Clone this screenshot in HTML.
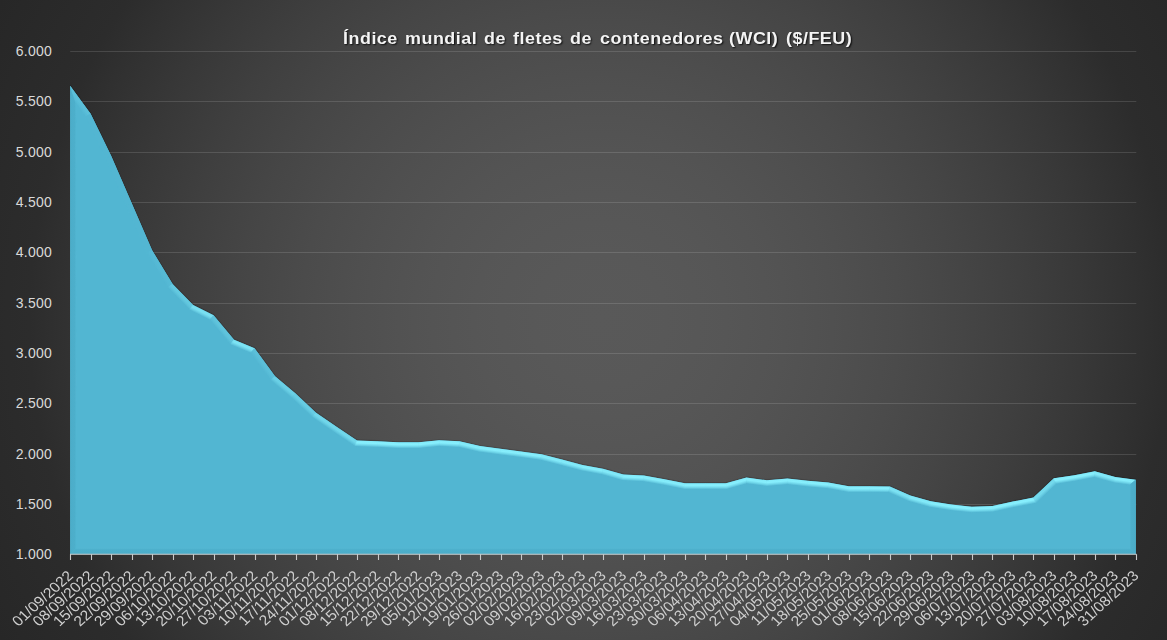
<!DOCTYPE html>
<html><head><meta charset="utf-8">
<style>
html,body{margin:0;padding:0;}
body{width:1167px;height:640px;overflow:hidden;position:relative;
background: radial-gradient(circle 680px at 600px 320px, rgb(89.0,89.0,89.0) 0.00%, rgb(88.2,88.2,88.2) 8.82%, rgb(86.3,86.3,86.3) 17.65%, rgb(83.4,83.4,83.4) 26.47%, rgb(79.5,79.5,79.5) 35.29%, rgb(74.9,74.9,74.9) 44.12%, rgb(69.4,69.4,69.4) 52.94%, rgb(63.1,63.1,63.1) 61.76%, rgb(56.1,56.1,56.1) 70.59%, rgb(48.3,48.3,48.3) 79.41%, rgb(44.0,44.0,44.0) 83.97%, rgb(39.0,39.0,39.0) 100.00%);
font-family:"Liberation Sans", sans-serif;}
svg{position:absolute;left:0;top:0;}
.xl{will-change:transform;}
.ttl span{position:absolute;top:29px;color:#f4f4f4;font-weight:bold;font-size:16px;letter-spacing:0.45px;transform:scaleX(1.12);transform-origin:0 0;white-space:pre;text-shadow:1px 1px 1.5px rgba(0,0,0,0.75);line-height:20px;}
</style></head><body>
<svg width="1167" height="640" viewBox="0 0 1167 640">
<defs>
<clipPath id="ac"><path d="M70.20,554.20 L70.20,85.70 L90.69,113.76 L111.18,155.70 L131.68,202.97 L152.17,250.25 L172.66,283.94 L193.15,304.96 L213.65,315.22 L234.14,339.66 L254.63,348.21 L275.12,376.17 L295.62,393.47 L316.11,412.68 L336.60,426.77 L357.09,440.54 L377.58,441.25 L398.08,442.36 L418.57,442.36 L439.06,440.34 L459.55,441.35 L480.05,446.08 L500.54,448.79 L521.03,451.41 L541.52,454.22 L562.02,459.45 L582.51,464.88 L603.00,468.71 L623.49,474.54 L643.98,475.55 L664.48,479.17 L684.97,483.29 L705.46,483.29 L725.95,483.29 L746.45,477.56 L766.94,480.27 L787.43,478.46 L807.92,480.78 L828.42,482.59 L848.91,486.31 L869.40,486.31 L889.89,486.51 L910.38,495.56 L930.88,501.29 L951.37,504.51 L971.86,506.63 L992.35,505.92 L1012.85,501.50 L1033.34,497.57 L1053.83,478.36 L1074.32,475.14 L1094.82,471.22 L1115.31,476.95 L1135.80,479.77 L1135.80,554.20 Z"/></clipPath>
<filter id="bl" x="-5%" y="-5%" width="110%" height="110%"><feGaussianBlur stdDeviation="0.7"/></filter>
<linearGradient id="g0" gradientUnits="userSpaceOnUse" x1="70.20" y1="319.95" x2="76.20" y2="319.95"><stop offset="0" stop-color="#4cadc9"/><stop offset="0.75" stop-color="#4dafcb"/><stop offset="1" stop-color="#52b6d2"/></linearGradient>
<linearGradient id="g1" gradientUnits="userSpaceOnUse" x1="80.45" y1="99.73" x2="75.60" y2="103.27"><stop offset="0" stop-color="#5abfd8"/><stop offset="0.4" stop-color="#5bbfd9"/><stop offset="0.7" stop-color="#57bbd6"/><stop offset="1" stop-color="#52b6d2"/></linearGradient>
<linearGradient id="g2" gradientUnits="userSpaceOnUse" x1="100.94" y1="134.73" x2="95.55" y2="137.37"><stop offset="0" stop-color="#52b6d2"/><stop offset="0.75" stop-color="#52b6d2"/><stop offset="1" stop-color="#52b6d2"/></linearGradient>
<linearGradient id="g3" gradientUnits="userSpaceOnUse" x1="121.43" y1="179.34" x2="115.93" y2="181.72"><stop offset="0" stop-color="#52b6d2"/><stop offset="0.75" stop-color="#52b6d2"/><stop offset="1" stop-color="#52b6d2"/></linearGradient>
<linearGradient id="g4" gradientUnits="userSpaceOnUse" x1="141.92" y1="226.61" x2="136.42" y2="229.00"><stop offset="0" stop-color="#52b6d2"/><stop offset="0.75" stop-color="#52b6d2"/><stop offset="1" stop-color="#52b6d2"/></linearGradient>
<linearGradient id="g5" gradientUnits="userSpaceOnUse" x1="162.42" y1="267.09" x2="157.29" y2="270.21"><stop offset="0" stop-color="#55bad5"/><stop offset="0.4" stop-color="#56bad5"/><stop offset="0.7" stop-color="#54b8d4"/><stop offset="1" stop-color="#52b6d2"/></linearGradient>
<linearGradient id="g6" gradientUnits="userSpaceOnUse" x1="182.91" y1="294.45" x2="178.61" y2="298.64"><stop offset="0" stop-color="#63c8df"/><stop offset="0.4" stop-color="#64c9e0"/><stop offset="0.7" stop-color="#5cc1da"/><stop offset="1" stop-color="#52b6d2"/></linearGradient>
<linearGradient id="g7" gradientUnits="userSpaceOnUse" x1="203.40" y1="310.09" x2="200.71" y2="315.46"><stop offset="0" stop-color="#76ddef"/><stop offset="0.4" stop-color="#79e0f1"/><stop offset="0.7" stop-color="#69cee4"/><stop offset="1" stop-color="#52b6d2"/></linearGradient>
<linearGradient id="g8" gradientUnits="userSpaceOnUse" x1="223.89" y1="327.44" x2="219.29" y2="331.30"><stop offset="0" stop-color="#5ec3dc"/><stop offset="0.4" stop-color="#5fc4dc"/><stop offset="0.7" stop-color="#5abed8"/><stop offset="1" stop-color="#52b6d2"/></linearGradient>
<linearGradient id="g9" gradientUnits="userSpaceOnUse" x1="244.38" y1="343.94" x2="242.07" y2="349.47"><stop offset="0" stop-color="#79e0f2"/><stop offset="0.4" stop-color="#7ce4f4"/><stop offset="0.7" stop-color="#6bd0e6"/><stop offset="1" stop-color="#52b6d2"/></linearGradient>
<linearGradient id="g10" gradientUnits="userSpaceOnUse" x1="264.88" y1="362.19" x2="260.04" y2="365.74"><stop offset="0" stop-color="#5abfd9"/><stop offset="0.4" stop-color="#5bbfd9"/><stop offset="0.7" stop-color="#57bbd6"/><stop offset="1" stop-color="#52b6d2"/></linearGradient>
<linearGradient id="g11" gradientUnits="userSpaceOnUse" x1="285.37" y1="384.82" x2="281.50" y2="389.41"><stop offset="0" stop-color="#69cee4"/><stop offset="0.4" stop-color="#6ad0e6"/><stop offset="0.7" stop-color="#60c5dd"/><stop offset="1" stop-color="#52b6d2"/></linearGradient>
<linearGradient id="g12" gradientUnits="userSpaceOnUse" x1="305.86" y1="403.08" x2="301.76" y2="407.46"><stop offset="0" stop-color="#65cbe2"/><stop offset="0.4" stop-color="#67cce3"/><stop offset="0.7" stop-color="#5ec3dc"/><stop offset="1" stop-color="#52b6d2"/></linearGradient>
<linearGradient id="g13" gradientUnits="userSpaceOnUse" x1="326.35" y1="419.72" x2="322.96" y2="424.67"><stop offset="0" stop-color="#6fd5e9"/><stop offset="0.4" stop-color="#71d7eb"/><stop offset="0.7" stop-color="#64c9e0"/><stop offset="1" stop-color="#52b6d2"/></linearGradient>
<linearGradient id="g14" gradientUnits="userSpaceOnUse" x1="346.85" y1="433.65" x2="343.50" y2="438.63"><stop offset="0" stop-color="#6fd5e9"/><stop offset="0.4" stop-color="#71d8eb"/><stop offset="0.7" stop-color="#64c9e1"/><stop offset="1" stop-color="#52b6d2"/></linearGradient>
<linearGradient id="g15" gradientUnits="userSpaceOnUse" x1="367.34" y1="440.90" x2="367.13" y2="446.89"><stop offset="0" stop-color="#83ebfa"/><stop offset="0.4" stop-color="#87effd"/><stop offset="0.7" stop-color="#71d7eb"/><stop offset="1" stop-color="#52b6d2"/></linearGradient>
<linearGradient id="g16" gradientUnits="userSpaceOnUse" x1="387.83" y1="441.80" x2="387.51" y2="447.79"><stop offset="0" stop-color="#83ebfa"/><stop offset="0.4" stop-color="#87effd"/><stop offset="0.7" stop-color="#71d7eb"/><stop offset="1" stop-color="#52b6d2"/></linearGradient>
<linearGradient id="g17" gradientUnits="userSpaceOnUse" x1="408.32" y1="442.36" x2="408.32" y2="448.36"><stop offset="0" stop-color="#83ebfa"/><stop offset="0.4" stop-color="#87effd"/><stop offset="0.7" stop-color="#71d7eb"/><stop offset="1" stop-color="#52b6d2"/></linearGradient>
<linearGradient id="g18" gradientUnits="userSpaceOnUse" x1="428.82" y1="441.35" x2="429.40" y2="447.32"><stop offset="0" stop-color="#83ebfa"/><stop offset="0.4" stop-color="#87effd"/><stop offset="0.7" stop-color="#71d7eb"/><stop offset="1" stop-color="#52b6d2"/></linearGradient>
<linearGradient id="g19" gradientUnits="userSpaceOnUse" x1="449.31" y1="440.85" x2="449.01" y2="446.84"><stop offset="0" stop-color="#83ebfa"/><stop offset="0.4" stop-color="#87effd"/><stop offset="0.7" stop-color="#71d7eb"/><stop offset="1" stop-color="#52b6d2"/></linearGradient>
<linearGradient id="g20" gradientUnits="userSpaceOnUse" x1="469.80" y1="443.71" x2="468.45" y2="449.56"><stop offset="0" stop-color="#80e7f7"/><stop offset="0.4" stop-color="#84ebfa"/><stop offset="0.7" stop-color="#6fd5e9"/><stop offset="1" stop-color="#52b6d2"/></linearGradient>
<linearGradient id="g21" gradientUnits="userSpaceOnUse" x1="490.29" y1="447.43" x2="489.50" y2="453.38"><stop offset="0" stop-color="#83eaf9"/><stop offset="0.4" stop-color="#86eefc"/><stop offset="0.7" stop-color="#70d7ea"/><stop offset="1" stop-color="#52b6d2"/></linearGradient>
<linearGradient id="g22" gradientUnits="userSpaceOnUse" x1="510.78" y1="450.10" x2="510.03" y2="456.05"><stop offset="0" stop-color="#83eaf9"/><stop offset="0.4" stop-color="#87eefc"/><stop offset="0.7" stop-color="#70d7ea"/><stop offset="1" stop-color="#52b6d2"/></linearGradient>
<linearGradient id="g23" gradientUnits="userSpaceOnUse" x1="531.28" y1="452.82" x2="530.46" y2="458.76"><stop offset="0" stop-color="#82eaf9"/><stop offset="0.4" stop-color="#86eefc"/><stop offset="0.7" stop-color="#70d6ea"/><stop offset="1" stop-color="#52b6d2"/></linearGradient>
<linearGradient id="g24" gradientUnits="userSpaceOnUse" x1="551.77" y1="456.84" x2="550.29" y2="462.65"><stop offset="0" stop-color="#7fe6f6"/><stop offset="0.4" stop-color="#83eaf9"/><stop offset="0.7" stop-color="#6ed4e9"/><stop offset="1" stop-color="#52b6d2"/></linearGradient>
<linearGradient id="g25" gradientUnits="userSpaceOnUse" x1="572.26" y1="462.17" x2="570.72" y2="467.97"><stop offset="0" stop-color="#7fe6f6"/><stop offset="0.4" stop-color="#82eaf9"/><stop offset="0.7" stop-color="#6ed4e9"/><stop offset="1" stop-color="#52b6d2"/></linearGradient>
<linearGradient id="g26" gradientUnits="userSpaceOnUse" x1="592.75" y1="466.80" x2="591.65" y2="472.69"><stop offset="0" stop-color="#81e9f8"/><stop offset="0.4" stop-color="#85edfb"/><stop offset="0.7" stop-color="#70d6ea"/><stop offset="1" stop-color="#52b6d2"/></linearGradient>
<linearGradient id="g27" gradientUnits="userSpaceOnUse" x1="613.25" y1="471.62" x2="611.60" y2="477.39"><stop offset="0" stop-color="#7ee5f6"/><stop offset="0.4" stop-color="#82e9f8"/><stop offset="0.7" stop-color="#6ed4e8"/><stop offset="1" stop-color="#52b6d2"/></linearGradient>
<linearGradient id="g28" gradientUnits="userSpaceOnUse" x1="633.74" y1="475.04" x2="633.44" y2="481.04"><stop offset="0" stop-color="#83ebfa"/><stop offset="0.4" stop-color="#87effd"/><stop offset="0.7" stop-color="#71d7eb"/><stop offset="1" stop-color="#52b6d2"/></linearGradient>
<linearGradient id="g29" gradientUnits="userSpaceOnUse" x1="654.23" y1="477.36" x2="653.19" y2="483.27"><stop offset="0" stop-color="#82e9f8"/><stop offset="0.4" stop-color="#85edfb"/><stop offset="0.7" stop-color="#70d6ea"/><stop offset="1" stop-color="#52b6d2"/></linearGradient>
<linearGradient id="g30" gradientUnits="userSpaceOnUse" x1="674.72" y1="481.23" x2="673.54" y2="487.11"><stop offset="0" stop-color="#81e8f8"/><stop offset="0.4" stop-color="#85ecfb"/><stop offset="0.7" stop-color="#6fd5ea"/><stop offset="1" stop-color="#52b6d2"/></linearGradient>
<linearGradient id="g31" gradientUnits="userSpaceOnUse" x1="695.22" y1="483.29" x2="695.22" y2="489.29"><stop offset="0" stop-color="#83ebfa"/><stop offset="0.4" stop-color="#87effd"/><stop offset="0.7" stop-color="#71d7eb"/><stop offset="1" stop-color="#52b6d2"/></linearGradient>
<linearGradient id="g32" gradientUnits="userSpaceOnUse" x1="715.71" y1="483.29" x2="715.71" y2="489.29"><stop offset="0" stop-color="#83ebfa"/><stop offset="0.4" stop-color="#87effd"/><stop offset="0.7" stop-color="#71d7eb"/><stop offset="1" stop-color="#52b6d2"/></linearGradient>
<linearGradient id="g33" gradientUnits="userSpaceOnUse" x1="736.20" y1="480.42" x2="737.82" y2="486.20"><stop offset="0" stop-color="#83ebfa"/><stop offset="0.4" stop-color="#87effd"/><stop offset="0.7" stop-color="#71d7eb"/><stop offset="1" stop-color="#52b6d2"/></linearGradient>
<linearGradient id="g34" gradientUnits="userSpaceOnUse" x1="756.69" y1="478.92" x2="755.90" y2="484.86"><stop offset="0" stop-color="#83eaf9"/><stop offset="0.4" stop-color="#86eefc"/><stop offset="0.7" stop-color="#70d7ea"/><stop offset="1" stop-color="#52b6d2"/></linearGradient>
<linearGradient id="g35" gradientUnits="userSpaceOnUse" x1="777.18" y1="479.37" x2="777.71" y2="485.35"><stop offset="0" stop-color="#83ebfa"/><stop offset="0.4" stop-color="#87effd"/><stop offset="0.7" stop-color="#71d7eb"/><stop offset="1" stop-color="#52b6d2"/></linearGradient>
<linearGradient id="g36" gradientUnits="userSpaceOnUse" x1="797.68" y1="479.62" x2="797.00" y2="485.58"><stop offset="0" stop-color="#83ebf9"/><stop offset="0.4" stop-color="#87effd"/><stop offset="0.7" stop-color="#71d7eb"/><stop offset="1" stop-color="#52b6d2"/></linearGradient>
<linearGradient id="g37" gradientUnits="userSpaceOnUse" x1="818.17" y1="481.68" x2="817.64" y2="487.66"><stop offset="0" stop-color="#83ebfa"/><stop offset="0.4" stop-color="#87effd"/><stop offset="0.7" stop-color="#71d7eb"/><stop offset="1" stop-color="#52b6d2"/></linearGradient>
<linearGradient id="g38" gradientUnits="userSpaceOnUse" x1="838.66" y1="484.45" x2="837.59" y2="490.35"><stop offset="0" stop-color="#81e9f8"/><stop offset="0.4" stop-color="#85edfb"/><stop offset="0.7" stop-color="#70d6ea"/><stop offset="1" stop-color="#52b6d2"/></linearGradient>
<linearGradient id="g39" gradientUnits="userSpaceOnUse" x1="859.15" y1="486.31" x2="859.15" y2="492.31"><stop offset="0" stop-color="#83ebfa"/><stop offset="0.4" stop-color="#87effd"/><stop offset="0.7" stop-color="#71d7eb"/><stop offset="1" stop-color="#52b6d2"/></linearGradient>
<linearGradient id="g40" gradientUnits="userSpaceOnUse" x1="879.65" y1="486.41" x2="879.59" y2="492.41"><stop offset="0" stop-color="#83ebfa"/><stop offset="0.4" stop-color="#87effd"/><stop offset="0.7" stop-color="#71d7eb"/><stop offset="1" stop-color="#52b6d2"/></linearGradient>
<linearGradient id="g41" gradientUnits="userSpaceOnUse" x1="900.14" y1="491.04" x2="897.71" y2="496.52"><stop offset="0" stop-color="#78dff1"/><stop offset="0.4" stop-color="#7be2f3"/><stop offset="0.7" stop-color="#6ad0e5"/><stop offset="1" stop-color="#52b6d2"/></linearGradient>
<linearGradient id="g42" gradientUnits="userSpaceOnUse" x1="920.63" y1="498.43" x2="919.01" y2="504.21"><stop offset="0" stop-color="#7ee6f6"/><stop offset="0.4" stop-color="#82e9f9"/><stop offset="0.7" stop-color="#6ed4e8"/><stop offset="1" stop-color="#52b6d2"/></linearGradient>
<linearGradient id="g43" gradientUnits="userSpaceOnUse" x1="941.12" y1="502.90" x2="940.19" y2="508.83"><stop offset="0" stop-color="#82e9f9"/><stop offset="0.4" stop-color="#86eefc"/><stop offset="0.7" stop-color="#70d6ea"/><stop offset="1" stop-color="#52b6d2"/></linearGradient>
<linearGradient id="g44" gradientUnits="userSpaceOnUse" x1="961.62" y1="505.57" x2="961.00" y2="511.54"><stop offset="0" stop-color="#83ebfa"/><stop offset="0.4" stop-color="#87effd"/><stop offset="0.7" stop-color="#71d7eb"/><stop offset="1" stop-color="#52b6d2"/></linearGradient>
<linearGradient id="g45" gradientUnits="userSpaceOnUse" x1="982.11" y1="506.27" x2="982.31" y2="512.27"><stop offset="0" stop-color="#83ebfa"/><stop offset="0.4" stop-color="#87effd"/><stop offset="0.7" stop-color="#71d7eb"/><stop offset="1" stop-color="#52b6d2"/></linearGradient>
<linearGradient id="g46" gradientUnits="userSpaceOnUse" x1="1002.60" y1="503.71" x2="1003.87" y2="509.57"><stop offset="0" stop-color="#83ebfa"/><stop offset="0.4" stop-color="#87effd"/><stop offset="0.7" stop-color="#71d7eb"/><stop offset="1" stop-color="#52b6d2"/></linearGradient>
<linearGradient id="g47" gradientUnits="userSpaceOnUse" x1="1023.09" y1="499.53" x2="1024.22" y2="505.43"><stop offset="0" stop-color="#83ebfa"/><stop offset="0.4" stop-color="#87effd"/><stop offset="0.7" stop-color="#71d7eb"/><stop offset="1" stop-color="#52b6d2"/></linearGradient>
<linearGradient id="g48" gradientUnits="userSpaceOnUse" x1="1043.58" y1="487.97" x2="1047.69" y2="492.35"><stop offset="0" stop-color="#71d8eb"/><stop offset="0.4" stop-color="#74daed"/><stop offset="0.7" stop-color="#66cbe2"/><stop offset="1" stop-color="#52b6d2"/></linearGradient>
<linearGradient id="g49" gradientUnits="userSpaceOnUse" x1="1064.08" y1="476.75" x2="1065.01" y2="482.68"><stop offset="0" stop-color="#83ebfa"/><stop offset="0.4" stop-color="#87effd"/><stop offset="0.7" stop-color="#71d7eb"/><stop offset="1" stop-color="#52b6d2"/></linearGradient>
<linearGradient id="g50" gradientUnits="userSpaceOnUse" x1="1084.57" y1="473.18" x2="1085.70" y2="479.08"><stop offset="0" stop-color="#83ebfa"/><stop offset="0.4" stop-color="#87effd"/><stop offset="0.7" stop-color="#71d7eb"/><stop offset="1" stop-color="#52b6d2"/></linearGradient>
<linearGradient id="g51" gradientUnits="userSpaceOnUse" x1="1105.06" y1="474.09" x2="1103.45" y2="479.87"><stop offset="0" stop-color="#7ee6f6"/><stop offset="0.4" stop-color="#82e9f9"/><stop offset="0.7" stop-color="#6ed4e8"/><stop offset="1" stop-color="#52b6d2"/></linearGradient>
<linearGradient id="g52" gradientUnits="userSpaceOnUse" x1="1125.55" y1="478.36" x2="1124.74" y2="484.31"><stop offset="0" stop-color="#82eaf9"/><stop offset="0.4" stop-color="#86eefc"/><stop offset="0.7" stop-color="#70d6ea"/><stop offset="1" stop-color="#52b6d2"/></linearGradient>
<linearGradient id="g53" gradientUnits="userSpaceOnUse" x1="1135.80" y1="516.99" x2="1129.80" y2="516.99"><stop offset="0" stop-color="#4cadc9"/><stop offset="0.75" stop-color="#4dafcb"/><stop offset="1" stop-color="#52b6d2"/></linearGradient>
<linearGradient id="g54" gradientUnits="userSpaceOnUse" x1="603.00" y1="554.20" x2="603.00" y2="548.20"><stop offset="0" stop-color="#4cadc9"/><stop offset="0.75" stop-color="#4dafcb"/><stop offset="1" stop-color="#52b6d2"/></linearGradient>

</defs>
<g stroke="rgba(255,255,255,0.13)" stroke-width="1">
<line x1="70.2" y1="504.5" x2="1136.3" y2="504.5"/>
<line x1="70.2" y1="454.5" x2="1136.3" y2="454.5"/>
<line x1="70.2" y1="403.5" x2="1136.3" y2="403.5"/>
<line x1="70.2" y1="353.5" x2="1136.3" y2="353.5"/>
<line x1="70.2" y1="303.5" x2="1136.3" y2="303.5"/>
<line x1="70.2" y1="252.5" x2="1136.3" y2="252.5"/>
<line x1="70.2" y1="202.5" x2="1136.3" y2="202.5"/>
<line x1="70.2" y1="152.5" x2="1136.3" y2="152.5"/>
<line x1="70.2" y1="101.5" x2="1136.3" y2="101.5"/>
<line x1="70.2" y1="51.5" x2="1136.3" y2="51.5"/>
</g>
<polyline points="70.20,85.70 90.69,113.76 111.18,155.70 131.68,202.97 152.17,250.25 172.66,283.94 193.15,304.96 213.65,315.22 234.14,339.66 254.63,348.21 275.12,376.17 295.62,393.47 316.11,412.68 336.60,426.77 357.09,440.54 377.58,441.25 398.08,442.36 418.57,442.36 439.06,440.34 459.55,441.35 480.05,446.08 500.54,448.79 521.03,451.41 541.52,454.22 562.02,459.45 582.51,464.88 603.00,468.71 623.49,474.54 643.98,475.55 664.48,479.17 684.97,483.29 705.46,483.29 725.95,483.29 746.45,477.56 766.94,480.27 787.43,478.46 807.92,480.78 828.42,482.59 848.91,486.31 869.40,486.31 889.89,486.51 910.38,495.56 930.88,501.29 951.37,504.51 971.86,506.63 992.35,505.92 1012.85,501.50 1033.34,497.57 1053.83,478.36 1074.32,475.14 1094.82,471.22 1115.31,476.95 1135.80,479.77" transform="translate(0,-0.5)" fill="none" stroke="rgba(0,0,0,0.14)" stroke-width="1.4" stroke-linejoin="round"/>
<path d="M70.20,554.20 L70.20,85.70 L90.69,113.76 L111.18,155.70 L131.68,202.97 L152.17,250.25 L172.66,283.94 L193.15,304.96 L213.65,315.22 L234.14,339.66 L254.63,348.21 L275.12,376.17 L295.62,393.47 L316.11,412.68 L336.60,426.77 L357.09,440.54 L377.58,441.25 L398.08,442.36 L418.57,442.36 L439.06,440.34 L459.55,441.35 L480.05,446.08 L500.54,448.79 L521.03,451.41 L541.52,454.22 L562.02,459.45 L582.51,464.88 L603.00,468.71 L623.49,474.54 L643.98,475.55 L664.48,479.17 L684.97,483.29 L705.46,483.29 L725.95,483.29 L746.45,477.56 L766.94,480.27 L787.43,478.46 L807.92,480.78 L828.42,482.59 L848.91,486.31 L869.40,486.31 L889.89,486.51 L910.38,495.56 L930.88,501.29 L951.37,504.51 L971.86,506.63 L992.35,505.92 L1012.85,501.50 L1033.34,497.57 L1053.83,478.36 L1074.32,475.14 L1094.82,471.22 L1115.31,476.95 L1135.80,479.77 L1135.80,554.20 Z" fill="#52b6d2"/>
<g clip-path="url(#ac)"><g filter="url(#bl)">
<path d="M70.20,554.20 L70.20,85.70 L75.52,102.00 L76.20,548.20 Z" fill="url(#g0)" stroke="url(#g0)" stroke-width="0.7"/>
<path d="M70.20,85.70 L90.69,113.76 L85.53,116.87 L75.52,102.00 Z" fill="url(#g1)" stroke="url(#g1)" stroke-width="0.7"/>
<path d="M90.69,113.76 L111.18,155.70 L105.73,158.21 L85.53,116.87 Z" fill="url(#g2)" stroke="url(#g2)" stroke-width="0.7"/>
<path d="M111.18,155.70 L131.68,202.97 L126.17,205.36 L105.73,158.21 Z" fill="url(#g3)" stroke="url(#g3)" stroke-width="0.7"/>
<path d="M131.68,202.97 L152.17,250.25 L146.83,253.01 L126.17,205.36 Z" fill="url(#g4)" stroke="url(#g4)" stroke-width="0.7"/>
<path d="M152.17,250.25 L172.66,283.94 L167.89,287.64 L146.83,253.01 Z" fill="url(#g5)" stroke="url(#g5)" stroke-width="0.7"/>
<path d="M172.66,283.94 L193.15,304.96 L189.56,309.88 L167.89,287.64 Z" fill="url(#g6)" stroke="url(#g6)" stroke-width="0.7"/>
<path d="M193.15,304.96 L213.65,315.22 L209.85,320.03 L189.56,309.88 Z" fill="url(#g7)" stroke="url(#g7)" stroke-width="0.7"/>
<path d="M213.65,315.22 L234.14,339.66 L230.48,344.64 L209.85,320.03 Z" fill="url(#g8)" stroke="url(#g8)" stroke-width="0.7"/>
<path d="M234.14,339.66 L254.63,348.21 L250.78,353.11 L230.48,344.64 Z" fill="url(#g9)" stroke="url(#g9)" stroke-width="0.7"/>
<path d="M254.63,348.21 L275.12,376.17 L270.71,380.30 L250.78,353.11 Z" fill="url(#g10)" stroke="url(#g10)" stroke-width="0.7"/>
<path d="M275.12,376.17 L295.62,393.47 L291.63,397.96 L270.71,380.30 Z" fill="url(#g11)" stroke="url(#g11)" stroke-width="0.7"/>
<path d="M295.62,393.47 L316.11,412.68 L312.34,417.37 L291.63,397.96 Z" fill="url(#g12)" stroke="url(#g12)" stroke-width="0.7"/>
<path d="M316.11,412.68 L336.60,426.77 L333.23,431.73 L312.34,417.37 Z" fill="url(#g13)" stroke="url(#g13)" stroke-width="0.7"/>
<path d="M336.60,426.77 L357.09,440.54 L355.17,446.48 L333.23,431.73 Z" fill="url(#g14)" stroke="url(#g14)" stroke-width="0.7"/>
<path d="M357.09,440.54 L377.58,441.25 L377.32,447.24 L355.17,446.48 Z" fill="url(#g15)" stroke="url(#g15)" stroke-width="0.7"/>
<path d="M377.58,441.25 L398.08,442.36 L397.92,448.36 L377.32,447.24 Z" fill="url(#g16)" stroke="url(#g16)" stroke-width="0.7"/>
<path d="M398.08,442.36 L418.57,442.36 L418.86,448.36 L397.92,448.36 Z" fill="url(#g17)" stroke="url(#g17)" stroke-width="0.7"/>
<path d="M418.57,442.36 L439.06,440.34 L439.21,446.36 L418.86,448.36 Z" fill="url(#g18)" stroke="url(#g18)" stroke-width="0.7"/>
<path d="M439.06,440.34 L459.55,441.35 L458.73,447.32 L439.21,446.36 Z" fill="url(#g19)" stroke="url(#g19)" stroke-width="0.7"/>
<path d="M459.55,441.35 L480.05,446.08 L478.98,451.99 L458.73,447.32 Z" fill="url(#g20)" stroke="url(#g20)" stroke-width="0.7"/>
<path d="M480.05,446.08 L500.54,448.79 L499.76,454.74 L478.98,451.99 Z" fill="url(#g21)" stroke="url(#g21)" stroke-width="0.7"/>
<path d="M500.54,448.79 L521.03,451.41 L520.24,457.36 L499.76,454.74 Z" fill="url(#g22)" stroke="url(#g22)" stroke-width="0.7"/>
<path d="M521.03,451.41 L541.52,454.22 L540.37,460.12 L520.24,457.36 Z" fill="url(#g23)" stroke="url(#g23)" stroke-width="0.7"/>
<path d="M541.52,454.22 L562.02,459.45 L560.50,465.26 L540.37,460.12 Z" fill="url(#g24)" stroke="url(#g24)" stroke-width="0.7"/>
<path d="M562.02,459.45 L582.51,464.88 L581.19,470.74 L560.50,465.26 Z" fill="url(#g25)" stroke="url(#g25)" stroke-width="0.7"/>
<path d="M582.51,464.88 L603.00,468.71 L601.63,474.55 L581.19,470.74 Z" fill="url(#g26)" stroke="url(#g26)" stroke-width="0.7"/>
<path d="M603.00,468.71 L623.49,474.54 L622.51,480.50 L601.63,474.55 Z" fill="url(#g27)" stroke="url(#g27)" stroke-width="0.7"/>
<path d="M623.49,474.54 L643.98,475.55 L643.31,481.52 L622.51,480.50 Z" fill="url(#g28)" stroke="url(#g28)" stroke-width="0.7"/>
<path d="M643.98,475.55 L664.48,479.17 L663.36,485.06 L643.31,481.52 Z" fill="url(#g29)" stroke="url(#g29)" stroke-width="0.7"/>
<path d="M664.48,479.17 L684.97,483.29 L684.37,489.29 L663.36,485.06 Z" fill="url(#g30)" stroke="url(#g30)" stroke-width="0.7"/>
<path d="M684.97,483.29 L705.46,483.29 L705.46,489.29 L684.37,489.29 Z" fill="url(#g31)" stroke="url(#g31)" stroke-width="0.7"/>
<path d="M705.46,483.29 L725.95,483.29 L726.78,489.29 L705.46,489.29 Z" fill="url(#g32)" stroke="url(#g32)" stroke-width="0.7"/>
<path d="M725.95,483.29 L746.45,477.56 L746.88,483.67 L726.78,489.29 Z" fill="url(#g33)" stroke="url(#g33)" stroke-width="0.7"/>
<path d="M746.45,477.56 L766.94,480.27 L766.81,486.31 L746.88,483.67 Z" fill="url(#g34)" stroke="url(#g34)" stroke-width="0.7"/>
<path d="M766.94,480.27 L787.43,478.46 L787.36,484.49 L766.81,486.31 Z" fill="url(#g35)" stroke="url(#g35)" stroke-width="0.7"/>
<path d="M787.43,478.46 L807.92,480.78 L807.32,486.75 L787.36,484.49 Z" fill="url(#g36)" stroke="url(#g36)" stroke-width="0.7"/>
<path d="M807.92,480.78 L828.42,482.59 L827.61,488.54 L807.32,486.75 Z" fill="url(#g37)" stroke="url(#g37)" stroke-width="0.7"/>
<path d="M828.42,482.59 L848.91,486.31 L848.37,492.31 L827.61,488.54 Z" fill="url(#g38)" stroke="url(#g38)" stroke-width="0.7"/>
<path d="M848.91,486.31 L869.40,486.31 L869.37,492.31 L848.37,492.31 Z" fill="url(#g39)" stroke="url(#g39)" stroke-width="0.7"/>
<path d="M869.40,486.31 L889.89,486.51 L888.60,492.50 L869.37,492.31 Z" fill="url(#g40)" stroke="url(#g40)" stroke-width="0.7"/>
<path d="M889.89,486.51 L910.38,495.56 L908.35,501.22 L888.60,492.50 Z" fill="url(#g41)" stroke="url(#g41)" stroke-width="0.7"/>
<path d="M910.38,495.56 L930.88,501.29 L929.60,507.17 L908.35,501.22 Z" fill="url(#g42)" stroke="url(#g42)" stroke-width="0.7"/>
<path d="M930.88,501.29 L951.37,504.51 L950.60,510.47 L929.60,507.17 Z" fill="url(#g43)" stroke="url(#g43)" stroke-width="0.7"/>
<path d="M951.37,504.51 L971.86,506.63 L971.66,512.64 L950.60,510.47 Z" fill="url(#g44)" stroke="url(#g44)" stroke-width="0.7"/>
<path d="M971.86,506.63 L992.35,505.92 L993.10,511.90 L971.66,512.64 Z" fill="url(#g45)" stroke="url(#g45)" stroke-width="0.7"/>
<path d="M992.35,505.92 L1012.85,501.50 L1014.04,507.38 L993.10,511.90 Z" fill="url(#g46)" stroke="url(#g46)" stroke-width="0.7"/>
<path d="M1012.85,501.50 L1033.34,497.57 L1036.17,503.14 L1014.04,507.38 Z" fill="url(#g47)" stroke="url(#g47)" stroke-width="0.7"/>
<path d="M1033.34,497.57 L1053.83,478.36 L1056.59,484.00 L1036.17,503.14 Z" fill="url(#g48)" stroke="url(#g48)" stroke-width="0.7"/>
<path d="M1053.83,478.36 L1074.32,475.14 L1075.35,481.06 L1056.59,484.00 Z" fill="url(#g49)" stroke="url(#g49)" stroke-width="0.7"/>
<path d="M1074.32,475.14 L1094.82,471.22 L1094.56,477.38 L1075.35,481.06 Z" fill="url(#g50)" stroke="url(#g50)" stroke-width="0.7"/>
<path d="M1094.82,471.22 L1115.31,476.95 L1114.09,482.84 L1094.56,477.38 Z" fill="url(#g51)" stroke="url(#g51)" stroke-width="0.7"/>
<path d="M1115.31,476.95 L1135.80,479.77 L1129.80,485.00 L1114.09,482.84 Z" fill="url(#g52)" stroke="url(#g52)" stroke-width="0.7"/>
<path d="M1135.80,479.77 L1135.80,554.20 L1129.80,548.20 L1129.80,485.00 Z" fill="url(#g53)" stroke="url(#g53)" stroke-width="0.7"/>
<path d="M1135.80,554.20 L70.20,554.20 L76.20,548.20 L1129.80,548.20 Z" fill="url(#g54)" stroke="url(#g54)" stroke-width="0.7"/>
</g></g>
<path d="M70.0,554.2H1136.5M70.5,554.2V560.0M91.5,554.2V560.0M111.5,554.2V560.0M132.5,554.2V560.0M152.5,554.2V560.0M173.5,554.2V560.0M193.5,554.2V560.0M214.5,554.2V560.0M234.5,554.2V560.0M255.5,554.2V560.0M275.5,554.2V560.0M296.5,554.2V560.0M316.5,554.2V560.0M337.5,554.2V560.0M357.5,554.2V560.0M378.5,554.2V560.0M398.5,554.2V560.0M419.5,554.2V560.0M439.5,554.2V560.0M460.5,554.2V560.0M480.5,554.2V560.0M501.5,554.2V560.0M521.5,554.2V560.0M542.5,554.2V560.0M562.5,554.2V560.0M583.5,554.2V560.0M603.5,554.2V560.0M623.5,554.2V560.0M644.5,554.2V560.0M664.5,554.2V560.0M685.5,554.2V560.0M705.5,554.2V560.0M726.5,554.2V560.0M746.5,554.2V560.0M767.5,554.2V560.0M787.5,554.2V560.0M808.5,554.2V560.0M828.5,554.2V560.0M849.5,554.2V560.0M869.5,554.2V560.0M890.5,554.2V560.0M910.5,554.2V560.0M931.5,554.2V560.0M951.5,554.2V560.0M972.5,554.2V560.0M992.5,554.2V560.0M1013.5,554.2V560.0M1033.5,554.2V560.0M1054.5,554.2V560.0M1074.5,554.2V560.0M1095.5,554.2V560.0M1115.5,554.2V560.0M1136.5,554.2V560.0" stroke="#c8c8c8" stroke-width="1.1" fill="none"/>
<g font-family="Liberation Sans, sans-serif" font-size="14" fill="#d9d9d9" text-anchor="end" letter-spacing="0.3">
<text x="52.2" y="559.10">1.000</text>
<text x="52.2" y="508.81">1.500</text>
<text x="52.2" y="458.52">2.000</text>
<text x="52.2" y="408.23">2.500</text>
<text x="52.2" y="357.94">3.000</text>
<text x="52.2" y="307.65">3.500</text>
<text x="52.2" y="257.36">4.000</text>
<text x="52.2" y="207.07">4.500</text>
<text x="52.2" y="156.78">5.000</text>
<text x="52.2" y="106.49">5.500</text>
<text x="52.2" y="56.20">6.000</text>
</g>
</svg>
<svg class="xl" width="1167" height="640" viewBox="0 0 1167 640">
<g font-family="Liberation Sans, sans-serif" font-size="14.3" fill="#cfcfcf" text-anchor="end">
<text transform="translate(70.20,573.00) scale(1.1,1) rotate(-45)" dy="5">01/09/2022</text>
<text transform="translate(90.69,573.00) scale(1.1,1) rotate(-45)" dy="5">08/09/2022</text>
<text transform="translate(111.18,573.00) scale(1.1,1) rotate(-45)" dy="5">15/09/2022</text>
<text transform="translate(131.68,573.00) scale(1.1,1) rotate(-45)" dy="5">22/09/2022</text>
<text transform="translate(152.17,573.00) scale(1.1,1) rotate(-45)" dy="5">29/09/2022</text>
<text transform="translate(172.66,573.00) scale(1.1,1) rotate(-45)" dy="5">06/10/2022</text>
<text transform="translate(193.15,573.00) scale(1.1,1) rotate(-45)" dy="5">13/10/2022</text>
<text transform="translate(213.65,573.00) scale(1.1,1) rotate(-45)" dy="5">20/10/2022</text>
<text transform="translate(234.14,573.00) scale(1.1,1) rotate(-45)" dy="5">27/10/2022</text>
<text transform="translate(254.63,573.00) scale(1.1,1) rotate(-45)" dy="5">03/11/2022</text>
<text transform="translate(275.12,573.00) scale(1.1,1) rotate(-45)" dy="5">10/11/2022</text>
<text transform="translate(295.62,573.00) scale(1.1,1) rotate(-45)" dy="5">17/11/2022</text>
<text transform="translate(316.11,573.00) scale(1.1,1) rotate(-45)" dy="5">24/11/2022</text>
<text transform="translate(336.60,573.00) scale(1.1,1) rotate(-45)" dy="5">01/12/2022</text>
<text transform="translate(357.09,573.00) scale(1.1,1) rotate(-45)" dy="5">08/12/2022</text>
<text transform="translate(377.58,573.00) scale(1.1,1) rotate(-45)" dy="5">15/12/2022</text>
<text transform="translate(398.08,573.00) scale(1.1,1) rotate(-45)" dy="5">22/12/2022</text>
<text transform="translate(418.57,573.00) scale(1.1,1) rotate(-45)" dy="5">29/12/2022</text>
<text transform="translate(439.06,573.00) scale(1.1,1) rotate(-45)" dy="5">05/01/2023</text>
<text transform="translate(459.55,573.00) scale(1.1,1) rotate(-45)" dy="5">12/01/2023</text>
<text transform="translate(480.05,573.00) scale(1.1,1) rotate(-45)" dy="5">19/01/2023</text>
<text transform="translate(500.54,573.00) scale(1.1,1) rotate(-45)" dy="5">26/01/2023</text>
<text transform="translate(521.03,573.00) scale(1.1,1) rotate(-45)" dy="5">02/02/2023</text>
<text transform="translate(541.52,573.00) scale(1.1,1) rotate(-45)" dy="5">09/02/2023</text>
<text transform="translate(562.02,573.00) scale(1.1,1) rotate(-45)" dy="5">16/02/2023</text>
<text transform="translate(582.51,573.00) scale(1.1,1) rotate(-45)" dy="5">23/02/2023</text>
<text transform="translate(603.00,573.00) scale(1.1,1) rotate(-45)" dy="5">02/03/2023</text>
<text transform="translate(623.49,573.00) scale(1.1,1) rotate(-45)" dy="5">09/03/2023</text>
<text transform="translate(643.98,573.00) scale(1.1,1) rotate(-45)" dy="5">16/03/2023</text>
<text transform="translate(664.48,573.00) scale(1.1,1) rotate(-45)" dy="5">23/03/2023</text>
<text transform="translate(684.97,573.00) scale(1.1,1) rotate(-45)" dy="5">30/03/2023</text>
<text transform="translate(705.46,573.00) scale(1.1,1) rotate(-45)" dy="5">06/04/2023</text>
<text transform="translate(725.95,573.00) scale(1.1,1) rotate(-45)" dy="5">13/04/2023</text>
<text transform="translate(746.45,573.00) scale(1.1,1) rotate(-45)" dy="5">20/04/2023</text>
<text transform="translate(766.94,573.00) scale(1.1,1) rotate(-45)" dy="5">27/04/2023</text>
<text transform="translate(787.43,573.00) scale(1.1,1) rotate(-45)" dy="5">04/05/2023</text>
<text transform="translate(807.92,573.00) scale(1.1,1) rotate(-45)" dy="5">11/05/2023</text>
<text transform="translate(828.42,573.00) scale(1.1,1) rotate(-45)" dy="5">18/05/2023</text>
<text transform="translate(848.91,573.00) scale(1.1,1) rotate(-45)" dy="5">25/05/2023</text>
<text transform="translate(869.40,573.00) scale(1.1,1) rotate(-45)" dy="5">01/06/2023</text>
<text transform="translate(889.89,573.00) scale(1.1,1) rotate(-45)" dy="5">08/06/2023</text>
<text transform="translate(910.38,573.00) scale(1.1,1) rotate(-45)" dy="5">15/06/2023</text>
<text transform="translate(930.88,573.00) scale(1.1,1) rotate(-45)" dy="5">22/06/2023</text>
<text transform="translate(951.37,573.00) scale(1.1,1) rotate(-45)" dy="5">29/06/2023</text>
<text transform="translate(971.86,573.00) scale(1.1,1) rotate(-45)" dy="5">06/07/2023</text>
<text transform="translate(992.35,573.00) scale(1.1,1) rotate(-45)" dy="5">13/07/2023</text>
<text transform="translate(1012.85,573.00) scale(1.1,1) rotate(-45)" dy="5">20/07/2023</text>
<text transform="translate(1033.34,573.00) scale(1.1,1) rotate(-45)" dy="5">27/07/2023</text>
<text transform="translate(1053.83,573.00) scale(1.1,1) rotate(-45)" dy="5">03/08/2023</text>
<text transform="translate(1074.32,573.00) scale(1.1,1) rotate(-45)" dy="5">10/08/2023</text>
<text transform="translate(1094.82,573.00) scale(1.1,1) rotate(-45)" dy="5">17/08/2023</text>
<text transform="translate(1115.31,573.00) scale(1.1,1) rotate(-45)" dy="5">24/08/2023</text>
<text transform="translate(1135.80,573.00) scale(1.1,1) rotate(-45)" dy="5">31/08/2023</text>
</g>
</svg>
<div class="ttl"><span style="left:343.0px">Índice</span><span style="left:405.0px">mundial</span><span style="left:484.4px">de</span><span style="left:513.3px">fletes</span><span style="left:570.3px">de</span><span style="left:599.6px">contenedores</span><span style="left:729.1px">(WCI)</span><span style="left:786.2px">($/FEU)</span></div>
</body></html>
